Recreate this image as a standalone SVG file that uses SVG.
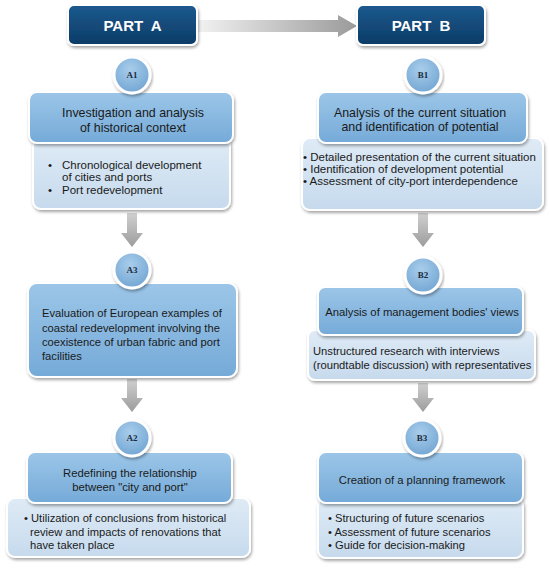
<svg xmlns="http://www.w3.org/2000/svg" width="550" height="569" viewBox="0 0 550 569">
<defs>
<linearGradient id="gPart" x1="0" y1="0" x2="0" y2="1"><stop offset="0" stop-color="#1c5a8e"/><stop offset="1" stop-color="#0b3b66"/></linearGradient>
<linearGradient id="gHead" x1="0" y1="0" x2="0" y2="1"><stop offset="0" stop-color="#9cc6e8"/><stop offset="1" stop-color="#75aad8"/></linearGradient>
<linearGradient id="gDet" x1="0" y1="0" x2="0" y2="1"><stop offset="0" stop-color="#dfebf6"/><stop offset="1" stop-color="#c6daed"/></linearGradient>
<radialGradient id="gCirc" cx="0.45" cy="0.35" r="0.7"><stop offset="0" stop-color="#a9cdeb"/><stop offset="1" stop-color="#6fa4d2"/></radialGradient>
<linearGradient id="gHArrow" x1="0" y1="0" x2="1" y2="0"><stop offset="0" stop-color="#f2f2f2"/><stop offset="1" stop-color="#9a9a9a"/></linearGradient>
<linearGradient id="gVArrow" x1="0" y1="0" x2="0" y2="1"><stop offset="0" stop-color="#d0d0d0"/><stop offset="1" stop-color="#9c9c9c"/></linearGradient>
<filter id="sh" x="-10%" y="-10%" width="120%" height="130%"><feDropShadow dx="1" dy="2" stdDeviation="1.6" flood-color="#000" flood-opacity="0.35"/></filter>
</defs>
<style>
.part{fill:url(#gPart);stroke:#fff;stroke-width:2;filter:url(#sh)}
.head{fill:url(#gHead);stroke:#fff;stroke-width:2;filter:url(#sh)}
.det{fill:url(#gDet);stroke:#fff;stroke-width:2;filter:url(#sh)}
.circ{fill:url(#gCirc);stroke:#fff;stroke-width:3;filter:url(#sh)}
.pt{font-family:"Liberation Sans",Arial,sans-serif;font-weight:bold;font-size:15px;fill:#fff;text-anchor:middle;word-spacing:4px}
.ct{font-family:"Liberation Serif","Times New Roman",serif;font-weight:bold;font-size:9px;fill:#1a2a3a;text-anchor:middle}
.ht{font-family:"Liberation Sans",Arial,sans-serif;font-size:12.4px;fill:#1a1a1a;text-anchor:middle}
.hs{font-size:11.3px}
.tx{font-family:"Liberation Sans",Arial,sans-serif;font-size:11.5px;fill:#1a1a1a}
.ts{font-size:11.2px}
.ha{fill:url(#gHArrow)}
.va{fill:url(#gVArrow)}
</style>
<g id="connectors">
<polygon class="ha" points="197,20 338,20 338,15 357,26 338,37 338,32 197,32"/>
<polygon class="va" points="127,213 137,213 137,233 143,233 132,247 121,233 127,233"/>
<polygon class="va" points="127,379 137,379 137,398 143,398 132,412 121,398 127,398"/>
<polygon class="va" points="418,213 428,213 428,233 434,233 423,247 412,233 418,233"/>
<polygon class="va" points="418,383 428,383 428,398 434,398 423,412 412,398 418,398"/>
</g>
<g id="partA"><rect class="part" x="68" y="5" width="129" height="40" rx="6"/><text class="pt" x="132.5" y="31">PART A</text></g>
<g id="partB"><rect class="part" x="357" y="5" width="128" height="40" rx="6"/><text class="pt" x="421" y="31">PART B</text></g>

<g id="A1">
<rect class="det" x="33" y="138" width="197" height="71" rx="8"/>
<rect class="head" x="29" y="92" width="204" height="51" rx="8"/>
<circle class="circ" cx="132" cy="75" r="18"/>
<text class="ct" x="132" y="78">A1</text>
<text class="ht" x="133" y="117">Investigation and analysis</text>
<text class="ht" x="133" y="132">of historical context</text>
<text class="tx" x="48" y="169">•</text><text class="tx" x="62" y="169">Chronological  development</text>
<text class="tx" x="62" y="181">of cities and ports</text>
<text class="tx" x="48" y="194">•</text><text class="tx" x="62" y="194">Port redevelopment</text>
</g>

<g id="B1">
<rect class="det" x="302" y="138" width="241" height="72" rx="8"/>
<rect class="head" x="318" y="92" width="209" height="51" rx="8"/>
<circle class="circ" cx="423" cy="75" r="18"/>
<text class="ct" x="423" y="78">B1</text>
<text class="ht" x="420" y="117">Analysis of the current situation</text>
<text class="ht" x="420" y="131">and identification of potential</text>
<text class="tx" x="303" y="161">• Detailed presentation of the current situation</text>
<text class="tx" x="303" y="173">• Identification of development potential</text>
<text class="tx" x="303" y="185">• Assessment of city-port interdependence</text>
</g>

<g id="A3">
<rect class="head" x="28" y="283" width="209" height="94" rx="9"/>
<circle class="circ" cx="132" cy="270" r="18"/>
<text class="ct" x="132" y="273">A3</text>
<text class="tx ts" x="42" y="317">Evaluation of European examples of</text>
<text class="tx ts" x="42" y="332">coastal redevelopment involving the</text>
<text class="tx ts" x="42" y="346">coexistence of urban fabric and port</text>
<text class="tx ts" x="42" y="360">facilities</text>
</g>

<g id="B2">
<rect class="det" x="308" y="330" width="227" height="50" rx="7"/>
<rect class="head" x="318" y="287" width="205" height="48" rx="7"/>
<circle class="circ" cx="423" cy="275" r="18"/>
<text class="ct" x="423" y="278">B2</text>
<text class="ht hs" x="422" y="316">Analysis of management bodies' views</text>
<text class="tx ts" x="313" y="355">Unstructured research with interviews</text>
<text class="tx ts" x="313" y="369">(roundtable discussion) with representatives</text>
</g>

<g id="A2">
<rect class="det" x="7" y="498" width="243" height="59" rx="8"/>
<rect class="head" x="27" y="452" width="205" height="51" rx="8"/>
<circle class="circ" cx="132" cy="438" r="18"/>
<text class="ct" x="132" y="441">A2</text>
<text class="ht hs" x="130" y="477">Redefining the relationship</text>
<text class="ht hs" x="130" y="491">between "city and port"</text>
<text class="tx ts" x="24" y="522">• Utilization of conclusions from historical</text>
<text class="tx ts" x="30" y="536">review and impacts of renovations that</text>
<text class="tx ts" x="30" y="549">have taken place</text>
</g>

<g id="B3">
<rect class="det" x="318" y="498" width="205" height="60" rx="8"/>
<rect class="head" x="318" y="452" width="205" height="51" rx="8"/>
<circle class="circ" cx="422" cy="438" r="18"/>
<text class="ct" x="422" y="441">B3</text>
<text class="ht hs" x="422" y="484">Creation of a planning framework</text>
<text class="tx ts" x="328" y="522">• Structuring of future scenarios</text>
<text class="tx ts" x="328" y="536">• Assessment of future scenarios</text>
<text class="tx ts" x="328" y="549">•  Guide for decision-making</text>
</g>
</svg>
